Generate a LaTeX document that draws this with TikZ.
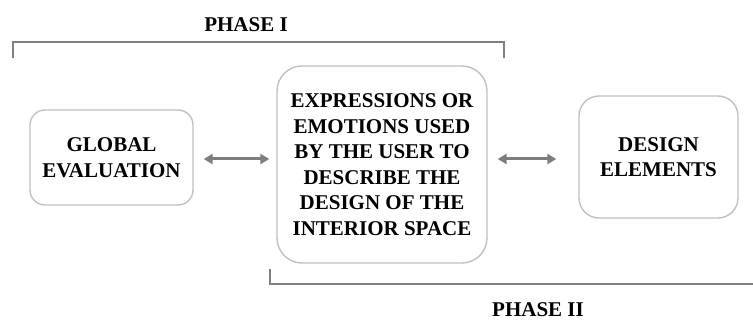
\documentclass[tikz,border=0pt]{standalone}
\usepackage{fontspec}
\setmainfont{Liberation Serif}
\usetikzlibrary{arrows.meta}
\definecolor{boxgray}{RGB}{192, 192, 192}
\definecolor{linegray}{RGB}{128, 128, 128}
\definecolor{arrowgray}{RGB}{125, 125, 125}

\begin{document}
\begin{tikzpicture}[x=1pt, y=-1pt,
  box/.style={draw=boxgray, line width=1.4pt, align=center, inner sep=0pt,
    font=\fontsize{21}{25.5}\selectfont\bfseries},
  bracket/.style={draw=linegray, line width=2.6pt},
  link/.style={draw=arrowgray, line width=3pt, {Triangle[length=9pt,width=10pt]}-{Triangle[length=9pt,width=10pt]}},
  phase/.style={font=\fontsize{21}{24}\selectfont\bfseries}]
\useasboundingbox (0,0) rectangle (753,320);
% boxes
\node[box, rounded corners=15pt, minimum width=163pt, minimum height=95pt] (global) at (111.5,157.5) {GLOBAL\\EVALUATION};
\node[box, rounded corners=25pt, minimum width=210pt, minimum height=197pt] (expr) at (382,164.5)
  {EXPRESSIONS OR\\EMOTIONS USED\\BY THE USER TO\\DESCRIBE THE\\DESIGN OF THE\\INTERIOR SPACE};
\node[box, rounded corners=20pt, minimum width=159pt, minimum height=122pt] (design) at (658.5,157) {DESIGN\\ELEMENTS};
% arrows
\draw[link, shorten <=10pt, shorten >=7pt] ([yshift=-1.5pt]global.east) -- ([yshift=-1.5pt]global.east -| expr.west);
\draw[link, shorten <=10pt, shorten >=22pt] ([yshift=-1.5pt]global.east -| expr.east) -- ([yshift=-1.5pt]global.east -| design.west);
% phases
\draw[bracket] (13,58) -- (13,42) -- (504,42) -- (504,58);
\node[phase] (phaseI) at (246,25) {PHASE I};
\draw[bracket] (270,269) -- (270,284) -- (753,284);
\node[phase] (phaseII) at (538,310) {PHASE II};
\end{tikzpicture}
\end{document}
